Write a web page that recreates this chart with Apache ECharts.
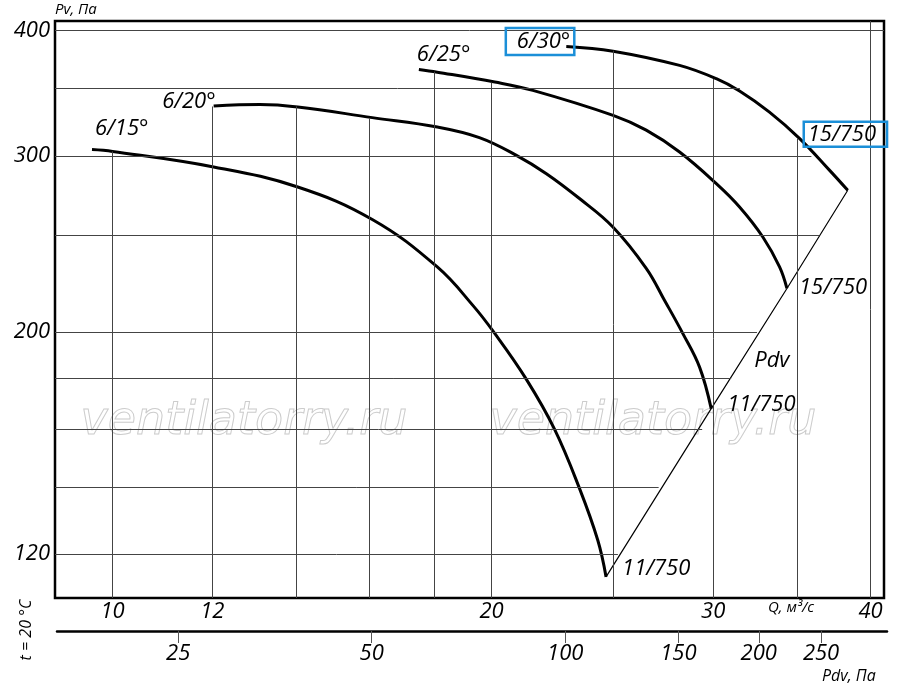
<!DOCTYPE html>
<html>
<head>
<meta charset="utf-8">
<script src="https://cdn.jsdelivr.net/npm/echarts@6/dist/echarts.min.js"></script>
<style>
html, body { margin: 0; padding: 0; background: #fff; }
#chart { width: 900px; height: 695px; }
</style>
</head>
<body>
<div id="chart"></div>
<script>
// tick labels
var qAxisLabels = [10, 12, 20, 30, 40];
var pvAxisLabels = [120, 200, 300, 400];
var pdvAxisLabels = [25, 50, 100, 150, 200, 250];

// grid lines: vertical ones stop at the upper curve, horizontal ones at the curve / Pdv line
var qGrid = [10, 12, 14, 16, 18, 20, 25, 30, 35, 40];
var qGridTop = [303, 336, 336, 327, 364, 355, 382, 358, 312, 409];
var pvGrid = [120, 140, 160, 180, 200, 250, 300, 350, 400];
var pvGridEnd = [25.2, 27.15, 29.4, 31.0, 32.5, 36.4, 35.9, 31.5, 41];

// curves, Q м³/с  /  Pv Па
var q15 = [9.63, 10.0, 12.03, 14.03, 16.08, 18.11, 19.35, 20.11, 21.31, 22.44, 23.49, 24.29, 24.66];
var pv15 = [304.3, 303, 292.4, 279.2, 259.1, 232.3, 212.3, 199.5, 179.5, 160, 139.6, 123.9, 113.9];

var q20 = [12.03, 13.09, 14.03, 16.08, 18.11, 19.56, 20.93, 22.11, 23.49, 24.97, 26.54, 27.44, 28.38, 29.26, 29.89];
var pv20 = [336.4, 337.5, 335.6, 327.5, 320.5, 312.8, 300.3, 287.9, 271.9, 254.7, 231.6, 215.2, 199.3, 184.5, 167.7];

var q25 = [17.51, 18.11, 20.12, 21.57, 24.98, 26.54, 28.21, 30.17, 31.48, 32.85, 33.87, 34.33];
var pv25 = [365.9, 363.6, 355.4, 348.7, 329.2, 318.2, 302.6, 281.4, 266.7, 248.9, 232.3, 221.1];

var q30 = [22.93, 24.98, 28.21, 30.17, 31.48, 33.25, 35.14, 37.12, 38.37];
var pv30 = [385.8, 381.6, 369.3, 358.2, 348.2, 331.7, 312.1, 290.1, 277.1];

var qMin = 9, qMax = 41, pvMin = 108.5, pvMax = 409;
var FONT = 'Open Sans';
var BLUE = '#1b8fd8';

function pairs(xs, ys) {
    var out = [];
    for (var i = 0; i < xs.length; i++) {
        out.push([xs[i], ys[i]]);
    }
    return out;
}

function txt(extra) {
    var s = {
        show: true,
        position: 'inside',
        fontFamily: FONT,
        fontStyle: 'italic',
        fontSize: 22,
        color: '#000',
        verticalAlign: 'middle'
    };
    for (var k in extra) s[k] = extra[k];
    return s;
}

function tag(x, y, label) {
    return {coord: [x, y], symbol: 'circle', symbolSize: 0, label: label};
}

var vLines = [];
for (var i = 0; i < qGrid.length; i++) {
    vLines.push([{coord: [qGrid[i], pvMin]}, {coord: [qGrid[i], qGridTop[i]]}]);
}
var hLines = [];
for (var j = 0; j < pvGrid.length; j++) {
    hLines.push([{coord: [qMin, pvGrid[j]]}, {coord: [pvGridEnd[j], pvGrid[j]]}]);
}

function curve(xs, ys, marks) {
    return {
        type: 'line',
        data: pairs(xs, ys),
        smooth: 0.4,
        symbol: 'none',
        silent: true,
        lineStyle: {color: '#000', width: 3},
        markPoint: {silent: true, data: marks}
    };
}

var n15 = q15.length - 1, n20 = q20.length - 1, n25 = q25.length - 1, n30 = q30.length - 1;

var chart = echarts.init(document.getElementById('chart'));

var option = {
    animation: false,
    backgroundColor: '#fff',
    textStyle: {fontFamily: FONT},
    grid: [
        {left: 55, right: 16, top: 21, bottom: 97, show: true, borderColor: '#000', borderWidth: 2.5},
        {left: 57, right: 13, top: 630, height: 1}
    ],
    xAxis: [
        {
            type: 'log', gridIndex: 0, min: qMin, max: qMax,
            axisLine: {show: false}, axisTick: {show: false}, splitLine: {show: false},
            axisLabel: {customValues: qAxisLabels, margin: 3, fontSize: 22, fontStyle: 'italic', color: '#000', fontFamily: FONT}
        },
        {
            type: 'log', gridIndex: 1, min: 16.2, max: 316.6,
            axisLine: {show: true, onZero: false, lineStyle: {color: '#000', width: 2.5}},
            axisTick: {show: true, customValues: pdvAxisLabels, length: 12, lineStyle: {color: '#555', width: 1}},
            splitLine: {show: false},
            axisLabel: {customValues: pdvAxisLabels, margin: 12, fontSize: 22, fontStyle: 'italic', color: '#000', fontFamily: FONT}
        }
    ],
    yAxis: [
        {
            type: 'log', gridIndex: 0, min: pvMin, max: pvMax,
            axisLine: {show: false}, axisTick: {show: false}, splitLine: {show: false},
            axisLabel: {customValues: pvAxisLabels, margin: 5, fontSize: 22, fontStyle: 'italic', color: '#000', fontFamily: FONT}
        },
        {type: 'value', gridIndex: 1, min: 0, max: 1, show: false}
    ],
    graphic: [
        {type: 'text', z: -10, left: 80, top: 399, style: {text: 'ventilatorry.ru', font: 'italic 46px "DejaVu Sans"', fill: 'rgba(255,255,255,0)', stroke: '#cccccc', lineWidth: 1}},
        {type: 'text', z: -10, left: 489, top: 399, style: {text: 'ventilatorry.ru', font: 'italic 46px "DejaVu Sans"', fill: 'rgba(255,255,255,0)', stroke: '#cccccc', lineWidth: 1}},
        {type: 'text', left: 55, top: 2, style: {text: 'Pv, Па', font: 'italic 15px "Open Sans"', fill: '#000'}},
        {type: 'text', left: 768, top: 600, style: {text: 'Q, м³/с', font: 'italic 15px "Open Sans"', fill: '#000'}},
        {type: 'text', left: 822, top: 668, style: {text: 'Pdv, Па', font: 'italic 16px "Open Sans"', fill: '#000'}},
        {type: 'text', x: 26, y: 630, rotation: Math.PI / 2, style: {text: 't = 20 °C', font: 'italic 16px "Open Sans"', fill: '#000', align: 'center', verticalAlign: 'middle'}}
    ],
    series: [
        {
            type: 'line', data: [], silent: true,
            markLine: {silent: true, symbol: ['none', 'none'], label: {show: false}, lineStyle: {color: '#444', width: 1, type: 'solid'}, data: vLines.concat(hLines)}
        },
        curve(q15, pv15, [
            tag(q15[0], pv15[0], txt({formatter: '6/15°', align: 'left', offset: [3, -21]})),
            tag(q15[n15], pv15[n15], txt({formatter: '11/750', align: 'left', offset: [16, -8]}))
        ]),
        curve(q20, pv20, [
            tag(q20[0], pv20[0], txt({formatter: '6/20°', align: 'right', offset: [2, -4]})),
            tag(q20[n20], pv20[n20], txt({formatter: '11/750', align: 'left', offset: [16, -4]}))
        ]),
        curve(q25, pv25, [
            tag(q25[0], pv25[0], txt({formatter: '6/25°', align: 'left', offset: [-2, -15]})),
            tag(q25[n25], pv25[n25], txt({formatter: '15/750', align: 'left', offset: [12, -1]}))
        ]),
        curve(q30, pv30, [
            tag(q30[0], pv30[0], txt({formatter: '6/30°', align: 'right', offset: [8, -5], borderColor: BLUE, borderWidth: 2.5, padding: [3, 4, 2, 11]})),
            tag(q30[n30], pv30[n30], txt({formatter: '15/750', align: 'left', offset: [-44, -56], borderColor: BLUE, borderWidth: 2.5, padding: [2, 11, 1, 4]}))
        ]),
        {
            type: 'line',
            data: [[q15[n15], pv15[n15]], [q20[n20], pv20[n20]], [q25[n25], pv25[n25]], [q30[n30], pv30[n30]]],
            symbol: 'none', silent: true,
            lineStyle: {color: '#000', width: 1.2},
            markPoint: {silent: true, data: [tag(q20[n20], pv20[n20], txt({formatter: 'Pdv', align: 'left', offset: [43, -48]}))]}
        },
        {type: 'line', xAxisIndex: 1, yAxisIndex: 1, data: [], silent: true}
    ]
};

chart.setOption(option);
</script>
</body>
</html>
